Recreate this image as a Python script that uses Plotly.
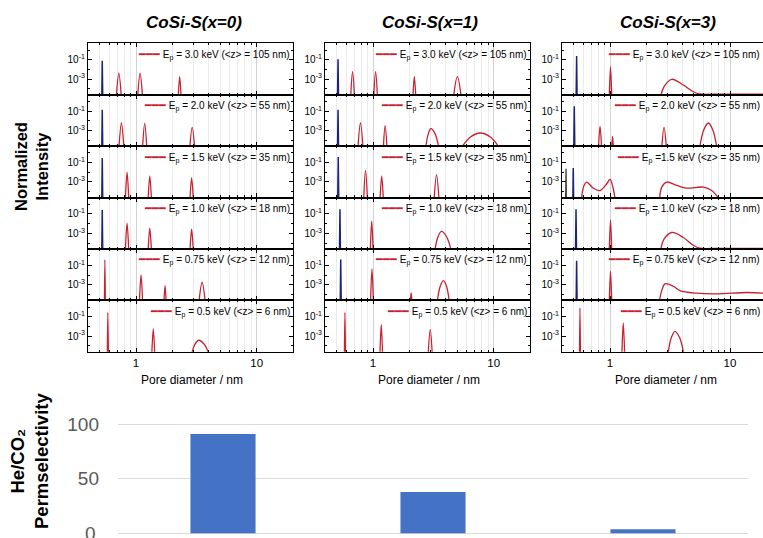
import plotly.graph_objects as go

# ---------------------------------------------------------------- data
samples = ["CoSi-S(x=0)", "CoSi-S(x=1)", "CoSi-S(x=3)"]
energies_kev = ["3.0", "2.0", "1.5", "1.0", "0.75", "0.5"]
mean_depth_nm = ["105", "55", "35", "18", "12", "6"]
selectivity = [91.1, 37.9, 3.7]          # He/CO2 permselectivity

y_tick_vals = [1e-3, 1e-1]
y_tick_text = ["10<sup>-3</sup>", "10<sup>-1</sup>"]
x_tick_vals = [1, 10]
x_tick_text = ["1", "10"]
sel_tick_vals = [0, 50, 100]

# pore size distributions: pore diameter (nm) / normalized intensity,
# one list per implantation energy (top to bottom), peaks separated by None
blue_d_x0 = [[0.52, 0.525, 0.53], [0.52, 0.525, 0.53], [0.52, 0.525, 0.53],
             [0.52, 0.525, 0.53], [], []]
blue_i_x0 = [[1e-5, 0.081, 1e-5], [1e-5, 0.141, 1e-5], [1e-5, 0.288, 1e-5],
             [1e-5, 0.263, 1e-5], [], []]
red_d_x0 = [
    [0.685, 0.72, 0.757, None, 1.03, 1.08, 1.135, None, 2.235, 2.30, 2.367],
    [0.72, 0.757, 0.795, None, 1.13, 1.18, 1.23, None, 2.78, 2.92, 3.07],
    [0.815, 0.843, 0.872, None, 1.257, 1.30, 1.345, None, 2.795, 2.89, 2.99],
    [0.815, 0.843, 0.872, None, 1.257, 1.30, 1.345, None, 2.795, 2.89, 2.99],
    [0.547, 0.552, 0.557, None, 1.065, 1.10, 1.135, None, 1.70, 1.74, 1.78,
     None, 3.31, 3.53, 3.76],
    [0.578, 0.584, 0.590, None, 1.35, 1.39, 1.43, None, 2.868, 3.073, 3.31,
     3.68, 4.06],
]
red_i_x0 = [
    [1e-5, 0.0041, 1e-5, None, 1e-5, 0.0041, 1e-5, None, 1e-5, 0.00182, 1e-5],
    [1e-5, 0.00603, 1e-5, None, 1e-5, 0.0055, 1e-5, None, 1e-5, 0.00219, 1e-5],
    [1e-5, 0.0105, 1e-5, None, 1e-5, 0.00407, 1e-5, None, 1e-5, 0.00269, 1e-5],
    [1e-5, 0.0112, 1e-5, None, 1e-5, 0.00339, 1e-5, None, 1e-5, 0.00269, 1e-5],
    [1e-5, 0.398, 1e-5, None, 1e-5, 0.0105, 1e-5, None, 1e-5, 0.00083, 1e-5,
     None, 1e-5, 0.00182, 1e-5],
    [1e-5, 0.288, 1e-5, None, 1e-5, 0.00562, 1e-5, None, 1e-5, 1.43e-4, 3.8e-4,
     1.43e-4, 1e-5],
]

blue_d_x1 = [[0.508, 0.513, 0.518], [0.508, 0.513, 0.518], [0.51, 0.515, 0.52],
             [0.527, 0.532, 0.537], [0.535, 0.54, 0.545], []]
blue_i_x1 = [[1e-5, 0.112, 1e-5], [1e-5, 0.141, 1e-5], [1e-5, 0.372, 1e-5],
             [1e-5, 0.309, 1e-5], [1e-5, 0.398, 1e-5], []]
red_d_x1 = [
    [0.652, 0.677, 0.703, None, 1.012, 1.05, 1.09, None, 2.137, 2.20, 2.265,
     None, 4.63, 5.0, 5.40],
    [0.748, 0.787, 0.828, None, 1.215, 1.26, 1.307, None, 2.72, 2.87, 3.02,
     3.27, 3.54, None, 5.24, 6.42, 7.77, 9.39, 11.5],
    [0.835, 0.867, 0.90, None, 1.14, 1.18, 1.22, None, 3.20, 3.36, 3.53],
    [0.948, 0.975, 1.003, None, 3.23, 3.455, 3.69, 4.07, 4.49],
    [0.953, 0.98, 1.008, None, 2.03, 2.07, 2.11, None, 3.38, 3.60, 3.83, 4.07,
     4.31],
    [0.579, 0.585, 0.591, None, 1.14, 1.17, 1.20, None, 2.86, 2.98, 3.10],
]
red_i_x1 = [
    [1e-5, 0.00589, 1e-5, None, 1e-5, 0.00589, 1e-5, None, 1e-5, 0.00182, 1e-5,
     None, 1e-5, 0.00182, 1e-5],
    [1e-5, 0.00603, 1e-5, None, 1e-5, 0.00316, 1e-5, None, 1e-5, 4.6e-4,
     0.00158, 4.6e-4, 1e-5, None, 1e-5, 2.19e-4, 5.62e-4, 2.19e-4, 1e-5],
    [1e-5, 0.0155, 1e-5, None, 1e-5, 0.00407, 1e-5, None, 1e-5, 0.0055, 1e-5],
    [1e-5, 0.0195, 1e-5, None, 1e-5, 4.5e-4, 0.00158, 4.5e-4, 1e-5],
    [1e-5, 0.0437, 1e-5, None, 1e-5, 1.45e-4, 1e-5, None, 1e-5, 6.6e-4,
     0.00269, 6.6e-4, 1e-5],
    [1e-5, 0.288, 1e-5, None, 1e-5, 0.0158, 1e-5, None, 1e-5, 0.00479, 1e-5],
]

blue_d_x3 = [[0.522, 0.527, 0.532], [0.499, 0.504, 0.509], [0.49, 0.494, 0.498],
             [0.516, 0.521, 0.526], [0.522, 0.527, 0.532], []]
blue_i_x3 = [[1e-5, 0.245, 1e-5], [1e-5, 0.316, 1e-5], [1e-5, 0.0269, 1e-5],
             [1e-5, 0.309, 1e-5], [1e-5, 0.309, 1e-5], []]
dark_d_x3 = [[], [], [0.427, 0.43, 0.433], [], [], []]
dark_i_x3 = [[], [], [1e-5, 0.0229, 1e-5], [], [], []]
red_d_x3 = [
    [0.985, 1.01, 1.035, None, 2.62, 2.82, 3.27, 4.08, 4.94, 5.6, 8.0, 12.0,
     19.0],
    [0.80, 0.826, 0.853, None, 1.03, 1.05, 1.07, None, 2.69, 2.82, 2.96, None,
     5.55, 6.04, 6.6, 7.19, 7.83],
    [0.575, 0.607, 0.64, 0.726, 0.826, 0.939, 1.0, 1.065, 1.11, None, 2.58,
     2.70, 2.97, 3.6, 4.35, 6.0, 7.03, 8.4],
    [0.985, 1.01, 1.035, None, 2.62, 2.82, 3.27, 4.08, 4.94, 5.6, 8.0, 12.0,
     19.0],
    [0.985, 1.01, 1.035, None, 2.55, 2.70, 2.87, 3.37, 3.83, 5.27, 7.75, 13.8,
     19.0],
    [0.557, 0.562, 0.567, None, 1.255, 1.29, 1.325, None, 3.03, 3.245, 3.48,
     3.80, 4.14],
]
red_i_x3 = [
    [1e-5, 0.0195, 1e-5, None, 1e-5, 1.7e-4, 9.8e-4, 2.5e-4, 5.1e-5, 3e-5,
     2.9e-5, 2.9e-5, 2.9e-5],
    [1e-5, 0.00275, 1e-5, None, 1e-5, 2.57e-4, 1e-5, None, 1e-5, 0.00219, 1e-5,
     None, 1e-5, 1.15e-3, 0.00603, 1.15e-3, 1e-5],
    [1e-5, 4.4e-4, 9.8e-4, 2.3e-4, 1.32e-4, 6.5e-4, 1.82e-3, 2e-4, 1e-5, None,
     1e-5, 2.95e-4, 9.8e-4, 4.4e-4, 2.3e-4, 2.95e-4, 1.3e-4, 1e-5],
    [1e-5, 0.0245, 1e-5, None, 1e-5, 2.5e-4, 1.23e-3, 3.8e-4, 6e-5, 3e-5,
     2.9e-5, 2.9e-5, 2.9e-5],
    [1e-5, 0.0251, 1e-5, None, 1e-5, 2.5e-4, 1.23e-3, 7.1e-4, 2.5e-4, 1.35e-4,
     1.15e-4, 1.6e-4, 1.4e-4],
    [1e-5, 0.83, 1e-5, None, 1e-5, 0.0234, 1e-5, None, 1e-5, 7.3e-4, 0.00316,
     7.3e-4, 1e-5],
]

columns = [
    (blue_d_x0, blue_i_x0, red_d_x0, red_i_x0, None, None),
    (blue_d_x1, blue_i_x1, red_d_x1, red_i_x1, None, None),
    (blue_d_x3, blue_i_x3, red_d_x3, red_i_x3, dark_d_x3, dark_i_x3),
]

# ---------------------------------------------------------------- layout
W, H = 763, 538
FONT = "Liberation Sans, Arial, sans-serif"
NARROW = "Liberation Sans Narrow, Arial Narrow, Liberation Sans, sans-serif"
RED = "#c8202f"
BLUE = "#1c237a"
DARK = "#3a3a3a"

col_px = [(88, 293), (325, 530), (562, 763)]
col_xrange = [[-0.398, 1.301], [-0.398, 1.301], [-0.4, 1.275]]
top0, pitch = 43.3, 51.4
minor_x = [0.4, 0.5, 0.6, 0.7, 0.8, 0.9, 2, 3, 4, 5, 6, 7, 8, 9, 20]


def fx(p):
    return p / W


def fy(p):
    return 1 - p / H


fig = go.Figure()
layout = dict(
    width=W, height=H, margin=dict(l=0, r=0, t=0, b=0),
    paper_bgcolor="white", plot_bgcolor="white", showlegend=False,
    font=dict(family=FONT, color="black"),
)
annotations = []

k = 0
for c, (bd, bi, rd, ri, dd, di) in enumerate(columns):
    left, right = col_px[c]
    for r in range(6):
        k += 1
        xa, ya = f"x{k}", f"y{k}"
        top = top0 + pitch * r
        bottom = top + pitch
        if dd is not None and dd[r]:
            fig.add_trace(go.Scatter(x=dd[r], y=di[r], mode="lines",
                                     line=dict(color=DARK, width=1.3),
                                     xaxis=xa, yaxis=ya))
        if bd[r]:
            fig.add_trace(go.Scatter(x=bd[r], y=bi[r], mode="lines",
                                     line=dict(color=BLUE, width=1.5),
                                     xaxis=xa, yaxis=ya))
        fig.add_trace(go.Scatter(x=rd[r], y=ri[r], mode="lines",
                                 line=dict(color=RED, width=1.3,
                                           shape="spline", smoothing=1),
                                 connectgaps=False, xaxis=xa, yaxis=ya))

        layout[f"xaxis{k}"] = dict(
            type="log", range=col_xrange[c], domain=[fx(left), fx(right)],
            anchor=ya, showline=True, linecolor="black", linewidth=1.2,
            mirror="allticks", ticks="inside", ticklen=4, tickwidth=1,
            tickcolor="black", tickmode="array", tickvals=x_tick_vals,
            ticktext=x_tick_text, showticklabels=(r == 5),
            tickfont=dict(size=11.5, family=FONT), zeroline=False,
            showgrid=True, gridcolor="#d2d2d2", gridwidth=1,
            minor=dict(tickmode="array", tickvals=minor_x, ticks="inside",
                       ticklen=2, tickcolor="black", showgrid=True,
                       gridcolor="#ebebeb", gridwidth=1),
        )
        layout[f"yaxis{k}"] = dict(
            type="log", range=[-4.6, 0.7],
            domain=[fy(bottom), fy(top)], anchor=xa,
            showline=True, linecolor="black", linewidth=1.2,
            mirror=("allticks" if c < 2 else False),
            ticks="inside", ticklen=4, tickwidth=1, tickcolor="black",
            tickmode="array", tickvals=y_tick_vals, ticktext=y_tick_text,
            tickfont=dict(size=10, family=FONT), showgrid=False,
            zeroline=False,
            minor=dict(tickmode="array", tickvals=[1e-4, 1e-2, 1],
                       ticks="inside", ticklen=2, tickcolor="black"),
        )

        sep = " =" if (c == 2 and r == 2) else " = "
        label = (f'<span style="color:{RED};font-size:11px">━━━</span> '
                 f'E<sub>p</sub>{sep}{energies_kev[r]} keV '
                 f'(&lt;z&gt; = {mean_depth_nm[r]} nm)')
        annotations.append(dict(
            x=fx(right - 1), y=fy(top + 11.5), xref="paper", yref="paper",
            xanchor="right", yanchor="middle", showarrow=False, text=label,
            font=dict(size=10, family=FONT, color="black"),
        ))

    # column heading and x-axis title
    centre = (col_px[c][0] + (col_px[c][0] + 205)) / 2
    annotations.append(dict(
        x=fx(centre + 3), y=fy(22), xref="paper", yref="paper",
        xanchor="center", yanchor="middle", showarrow=False,
        text=f"<b><i>{samples[c]}</i></b>",
        font=dict(size=17, family=NARROW, color="black"),
    ))
    annotations.append(dict(
        x=fx(centre + 1), y=fy(380), xref="paper", yref="paper",
        xanchor="center", yanchor="middle", showarrow=False,
        text="Pore diameter / nm",
        font=dict(size=12, family=FONT, color="black"),
    ))

# shared y title of the distribution panels
annotations.append(dict(
    x=fx(31), y=fy(166), xref="paper", yref="paper", xanchor="center",
    yanchor="middle", showarrow=False, textangle=-90,
    text="<b>Normalized<br>Intensity</b>",
    font=dict(size=16.5, family=FONT, color="black"),
))

# ---------------------------------------------------------------- bar chart
fig.add_trace(go.Bar(
    x=[0, 1, 2], y=selectivity, width=0.31, marker_color="#4472C4",
    marker_line_width=0, xaxis="x19", yaxis="y19",
))
layout["xaxis19"] = dict(
    domain=[fx(118), fx(748)], range=[-0.5, 2.5], anchor="y19",
    showticklabels=False, showgrid=False, showline=False, zeroline=False,
    ticks="",
)
layout["yaxis19"] = dict(
    domain=[0, 138 / H], range=[-4.3, 122.3], anchor="x19",
    tickmode="array", tickvals=sel_tick_vals, showgrid=True,
    gridcolor="#d9d9d9", gridwidth=1, showline=False, zeroline=False,
    ticks="", ticklabelstandoff=18,
    tickfont=dict(size=19, family=FONT, color="#595959"),
)
# the zero label sits on the lower page edge, where tick labels get dropped
annotations.append(dict(
    x=fx(98), y=sel_tick_vals[0], xref="paper", yref="y19",
    xanchor="right", yanchor="middle", showarrow=False,
    text=str(sel_tick_vals[0]),
    font=dict(size=19, family=FONT, color="#595959"),
))
annotations.append(dict(
    x=fx(29), y=fy(461), xref="paper", yref="paper", xanchor="center",
    yanchor="middle", showarrow=False, textangle=-90,
    text="<b>He/CO₂<br>Permselectivity</b>",
    font=dict(size=18.5, family=FONT, color="black"),
))

layout["annotations"] = annotations
fig.update_layout(**layout)
fig.write_html("out.html")
